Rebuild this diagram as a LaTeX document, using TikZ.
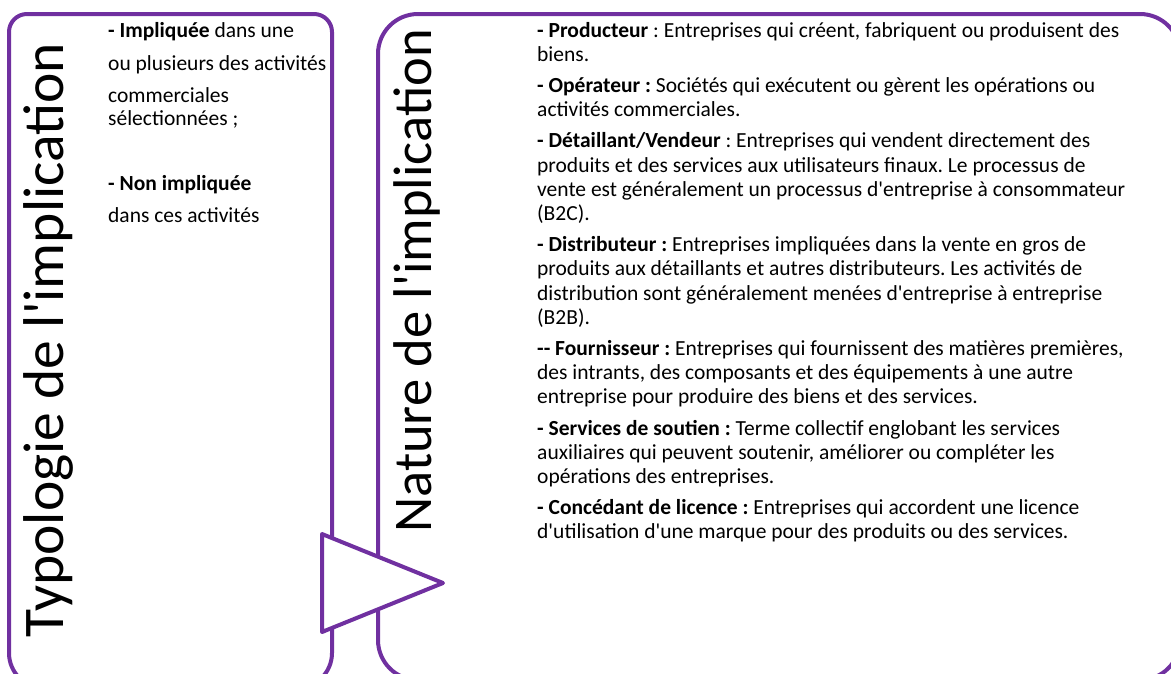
\documentclass[tikz,border=0pt]{standalone}
\usepackage{fontspec}
\setmainfont{Carlito}[Ligatures=TeXOff]
\definecolor{violetbox}{RGB}{112,48,160}
\begin{document}
\begin{tikzpicture}[x=1pt,y=-1pt,
  boxline/.style={draw=violetbox,line width=4pt,line join=round},
  bodytext/.style={anchor=base west,inner sep=0pt,font=\fontsize{21.5}{24}\selectfont\frenchspacing},
  titletext/.style={anchor=base,inner sep=0pt,rotate=90}]
\useasboundingbox (0,0) rectangle (1171,673);
\begin{scope}
\clip (0,0) rectangle (1171,673);
% right box
\draw[boxline,rounded corners=40pt] (378,14) rectangle (1180,680);
% left box
\draw[boxline] (9,300) [rounded corners=18pt] -- (9,14) -- (332,14) -- (332,400)
  [rounded corners=35pt] -- (332,688) -- (9,688) -- cycle;
\end{scope}
% triangle
\draw[boxline,fill=white] (322,534) coordinate (t1) -- (443,583) coordinate (t2) -- (322,632) coordinate (t3) -- cycle;
% titles
\node[titletext,font=\fontsize{57.5}{60}\selectfont] (titleL) at (63,340) {Typologie de l'implication};
\node[titletext,font=\fontsize{54.5}{60}\selectfont] (titleR) at (431,281) {Nature de l'implication};
% left column
\node[bodytext] (l1) at (108,37) {\textbf{- Impliquée} dans une};
\node[bodytext] (l2) at (108,70) {ou plusieurs des activités};
\node[bodytext] (l3) at (108,102) {commerciales};
\node[bodytext] (l4) at (108,125) {sélectionnées ;};
\node[bodytext] (l5) at (108,190) {\textbf{- Non impliquée}};
\node[bodytext] (l6) at (108,222) {dans ces activités};
% right column
\node[bodytext] (r1) at (537,37) {\textbf{- Producteur} : Entreprises qui créent, fabriquent ou produisent des};
\node[bodytext] (r2) at (537,61.2) {biens.};
\node[bodytext] (r3) at (537,92.4) {\textbf{- Opérateur :} Sociétés qui exécutent ou gèrent les opérations ou};
\node[bodytext] (r4) at (537,116.6) {activités commerciales.};
\node[bodytext] (r5) at (537,147.8) {\textbf{- Détaillant/Vendeur} : Entreprises qui vendent directement des};
\node[bodytext] (r6) at (537,172) {produits et des services aux utilisateurs finaux. Le processus de};
\node[bodytext] (r7) at (537,196.2) {vente est généralement un processus d'entreprise à consommateur};
\node[bodytext] (r8) at (537,220.4) {(B2C).};
\node[bodytext] (r9) at (537,251.6) {\textbf{- Distributeur :} Entreprises impliquées dans la vente en gros de};
\node[bodytext] (r10) at (537,275.8) {produits aux détaillants et autres distributeurs. Les activités de};
\node[bodytext] (r11) at (537,300) {distribution sont généralement menées d'entreprise à entreprise};
\node[bodytext] (r12) at (537,324.2) {(B2B).};
\node[bodytext] (r13) at (537,355.4) {\textbf{-- Fournisseur :} Entreprises qui fournissent des matières premières,};
\node[bodytext] (r14) at (537,379.6) {des intrants, des composants et des équipements à une autre};
\node[bodytext] (r15) at (537,403.8) {entreprise pour produire des biens et des services.};
\node[bodytext] (r16) at (537,435) {\textbf{- Services de soutien :} Terme collectif englobant les services};
\node[bodytext] (r17) at (537,459.2) {auxiliaires qui peuvent soutenir, améliorer ou compléter les};
\node[bodytext] (r18) at (537,483.4) {opérations des entreprises.};
\node[bodytext] (r19) at (537,514.6) {\textbf{- Concédant de licence :} Entreprises qui accordent une licence};
\node[bodytext] (r20) at (537,538.8) {d'utilisation d'une marque pour des produits ou des services.};
\end{tikzpicture}
\end{document}
